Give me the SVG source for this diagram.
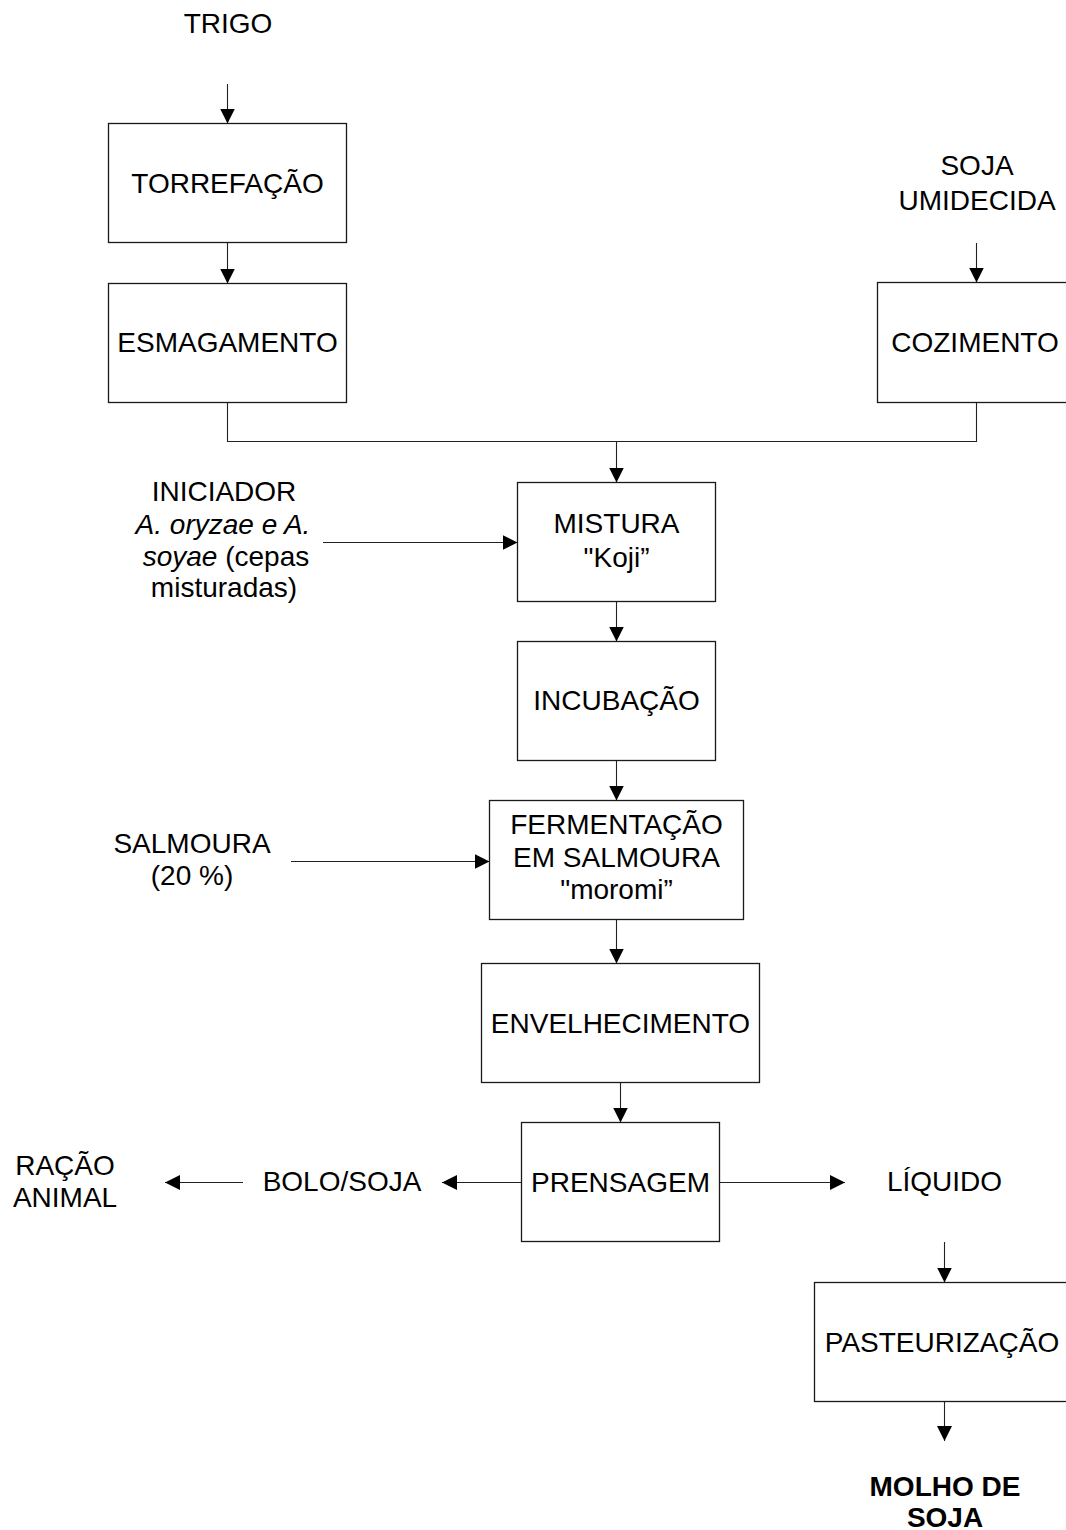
<svg xmlns="http://www.w3.org/2000/svg" width="1066" height="1530" viewBox="0 0 1066 1530">
<style>
text{font-family:"Liberation Sans",Arial,sans-serif;font-size:28px;fill:#000;text-anchor:middle}
.b{font-weight:bold}
.i{font-style:italic}
rect{fill:#fff;stroke:#1a1a1a;stroke-width:1.3}
.c line,.c polyline{stroke:#222;stroke-width:1.1;fill:none}
.a{marker-end:url(#ah)}
</style>
<defs>
<marker id="ah" markerUnits="userSpaceOnUse" markerWidth="16" markerHeight="16" refX="15" refY="7.5" orient="auto">
<path d="M0,0 L15,7.5 L0,15 z" fill="#000"/>
</marker>
</defs>
<rect width="1066" height="1530" style="fill:#fff;stroke:none"/>
<g class="c" id="connectors">
<line class="a" x1="227.5" y1="84" x2="227.5" y2="123.5"/>
<line class="a" x1="227.5" y1="242.5" x2="227.5" y2="283.5"/>
<line class="a" x1="976.5" y1="243" x2="976.5" y2="282.5"/>
<polyline points="227.5,402.5 227.5,441.5 976.5,441.5 976.5,402.5"/>
<line class="a" x1="616.5" y1="441.5" x2="616.5" y2="482.5"/>
<line class="a" x1="323" y1="542.5" x2="517.5" y2="542.5"/>
<line class="a" x1="616.5" y1="601.5" x2="616.5" y2="641.5"/>
<line class="a" x1="616.5" y1="760.5" x2="616.5" y2="800.5"/>
<line class="a" x1="291" y1="861.5" x2="489.5" y2="861.5"/>
<line class="a" x1="616.5" y1="919.5" x2="616.5" y2="963.5"/>
<line class="a" x1="620.5" y1="1082.5" x2="620.5" y2="1122.5"/>
<line class="a" x1="521.5" y1="1182.5" x2="442" y2="1182.5"/>
<line class="a" x1="243" y1="1182.5" x2="165" y2="1182.5"/>
<line class="a" x1="719.5" y1="1182.5" x2="845" y2="1182.5"/>
<line class="a" x1="944.5" y1="1242" x2="944.5" y2="1282.5"/>
<line class="a" x1="944.5" y1="1401.5" x2="944.5" y2="1441"/>
</g>
<g id="trigo"><text x="228" y="33">TRIGO</text></g>
<g id="torrefacao"><rect x="108.5" y="123.5" width="238" height="119"/><text x="227.5" y="193">TORREFAÇÃO</text></g>
<g id="esmagamento"><rect x="108.5" y="283.5" width="238" height="119"/><text x="227.5" y="352">ESMAGAMENTO</text></g>
<g id="soja-umidecida"><text x="977" y="175">SOJA</text><text x="977" y="210">UMIDECIDA</text></g>
<g id="cozimento"><rect x="877.5" y="282.5" width="198" height="120"/><text x="975" y="352">COZIMENTO</text></g>
<g id="iniciador">
<text x="224" y="501">INICIADOR</text>
<text x="223" y="534" class="i">A. oryzae e A.</text>
<text x="226" y="566"><tspan class="i">soyae</tspan> (cepas</text>
<text x="224" y="597">misturadas)</text>
</g>
<g id="mistura"><rect x="517.5" y="482.5" width="198" height="119"/><text x="616.5" y="533">MISTURA</text><text x="616.5" y="567">"Koji”</text></g>
<g id="incubacao"><rect x="517.5" y="641.5" width="198" height="119"/><text x="616.5" y="710">INCUBAÇÃO</text></g>
<g id="salmoura"><text x="192" y="853">SALMOURA</text><text x="192" y="885">(20 %)</text></g>
<g id="fermentacao"><rect x="489.5" y="800.5" width="254" height="119"/><text x="616.5" y="834">FERMENTAÇÃO</text><text x="616.5" y="867">EM SALMOURA</text><text x="616.5" y="899">"moromi”</text></g>
<g id="envelhecimento"><rect x="481.5" y="963.5" width="278" height="119"/><text x="620.5" y="1033">ENVELHECIMENTO</text></g>
<g id="prensagem"><rect x="521.5" y="1122.5" width="198" height="119"/><text x="620.5" y="1192">PRENSAGEM</text></g>
<g id="bolo-soja"><text x="342" y="1191">BOLO/SOJA</text></g>
<g id="racao-animal"><text x="65" y="1175">RAÇÃO</text><text x="65" y="1207">ANIMAL</text></g>
<g id="liquido"><text x="944.5" y="1191">LÍQUIDO</text></g>
<g id="pasteurizacao"><rect x="814.5" y="1282.5" width="262" height="119"/><text x="942" y="1352">PASTEURIZAÇÃO</text></g>
<g id="molho-de-soja"><text x="945" y="1496" class="b">MOLHO DE</text><text x="945" y="1527" class="b">SOJA</text></g>
</svg>
